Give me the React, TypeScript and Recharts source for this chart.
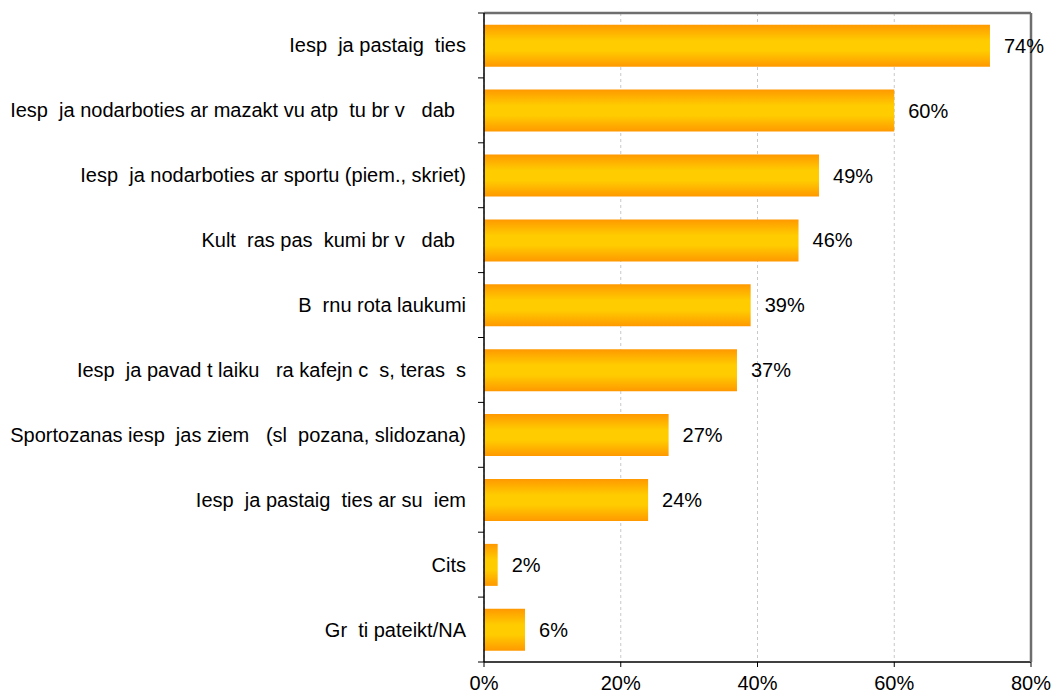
import React from "react";
import {
  BarChart,
  Bar,
  XAxis,
  YAxis,
  CartesianGrid,
  LabelList
} from "recharts";

// labels as they appear in the source (missing glyphs rendered as blanks)
const categories = [
  "Iesp  ja pastaig  ties",
  "Iesp  ja nodarboties ar mazakt vu atp  tu br v   dab  ",
  "Iesp  ja nodarboties ar sportu (piem., skriet)",
  "Kult  ras pas  kumi br v   dab  ",
  "B  rnu rota laukumi",
  "Iesp  ja pavad t laiku   ra kafejn c  s, teras  s",
  "Sportozanas iesp  jas ziem   (sl  pozana, slidozana)",
  "Iesp  ja pastaig  ties ar su  iem",
  "Cits",
  "Gr  ti pateikt/NA"
];
const values = [74, 60, 49, 46, 39, 37, 27, 24, 2, 6];
const xTicks = [0, 20, 40, 60, 80];

const data = categories.map((name, i) => ({ name, value: values[i] }));

const W = 1053;
const H = 698;
const M = { top: 12, right: 21, bottom: 6, left: 8 };
const X_AXIS_H = 30;
const Y_AXIS_W = 476;
const FONT = "'Liberation Sans', Arial, sans-serif";
const FRAME = "#6e6e6e";
const bandSize = (H - M.top - 1 - M.bottom - X_AXIS_H) / categories.length;

// eslint-disable-next-line @typescript-eslint/no-explicit-any
const CategoryTick = (props: any) => {
  const { x, y, payload, index } = props;
  const axisX = x + 8;
  return (
    <g>
      <line x1={axisX - 6} x2={axisX} y1={y - bandSize / 2} y2={y - bandSize / 2} stroke="#000" />
      {index === categories.length - 1 && (
        <line x1={axisX - 6} x2={axisX} y1={y + bandSize / 2} y2={y + bandSize / 2} stroke="#000" />
      )}
      <text
        x={x - 10}
        y={y}
        dy="0.35em"
        textAnchor="end"
        fill="#000"
        fontSize={20}
        fontFamily={FONT}
        style={{ whiteSpace: "pre" }}
      >
        {payload.value}
      </text>
    </g>
  );
};

export default function App() {
  return (
    <div style={{ position: "absolute", left: 0, top: 0, background: "#fff" }}>
      <BarChart
        width={W}
        height={H}
        data={data}
        layout="vertical"
        margin={M}
        barCategoryGap="18%"
      >
        <defs>
          <linearGradient id="barFill" x1="0" y1="0" x2="0" y2="1">
            <stop offset="0%" stopColor="#FF9900" />
            <stop offset="38%" stopColor="#FFCC00" />
            <stop offset="62%" stopColor="#FFCC00" />
            <stop offset="100%" stopColor="#FF9900" />
          </linearGradient>
        </defs>
        <CartesianGrid
          horizontal={false}
          vertical={true}
          stroke="#c8c8c8"
          strokeDasharray="3 3"
        />
        <XAxis
          type="number"
          domain={[0, 80]}
          ticks={xTicks}
          tickFormatter={(v: number) => `${v}%`}
          height={X_AXIS_H}
          axisLine={{ stroke: "#000", strokeWidth: 1.5 }}
          tickLine={{ stroke: "#000" }}
          tickSize={5}
          tickMargin={9}
          tick={{ fill: "#000", fontSize: 20, fontFamily: FONT }}
        />
        {/* grey top edge of the plot frame */}
        <XAxis
          xAxisId="top"
          type="number"
          domain={[0, 80]}
          orientation="top"
          height={1}
          tick={false}
          tickLine={false}
          stroke={FRAME}
          axisLine={{ stroke: FRAME, strokeWidth: 2.5 }}
        />
        <YAxis
          type="category"
          dataKey="name"
          width={Y_AXIS_W}
          axisLine={{ stroke: "#000", strokeWidth: 1.5 }}
          tickLine={false}
          tick={<CategoryTick />}
          interval={0}
        />
        {/* grey right edge of the plot frame */}
        <YAxis
          yAxisId="right"
          type="category"
          dataKey="name"
          orientation="right"
          width={1}
          tick={false}
          tickLine={false}
          stroke={FRAME}
          axisLine={{ stroke: FRAME, strokeWidth: 2.5 }}
        />
        <Bar dataKey="value" fill="url(#barFill)" isAnimationActive={false}>
          <LabelList
            dataKey="value"
            position="right"
            offset={14}
            formatter={(v: number) => `${v}%`}
            fill="#000"
            fontSize={20}
            fontFamily={FONT}
          />
        </Bar>
      </BarChart>
    </div>
  );
}
